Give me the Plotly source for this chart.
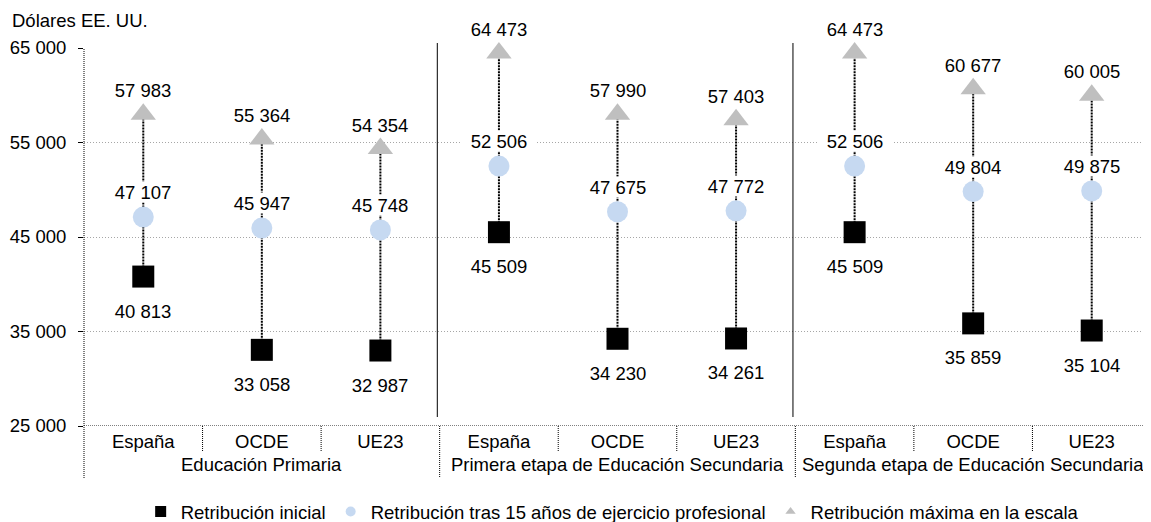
import plotly.graph_objects as go

# data
paises = ["España", "OCDE", "UE23"] * 3
etapas = [
    "Educación Primaria",
    "Primera etapa de Educación Secundaria",
    "Segunda etapa de Educación Secundaria",
]
inicial = [40813, 33058, 32987, 45509, 34230, 34261, 45509, 35859, 35104]
quince = [47107, 45947, 45748, 52506, 47675, 47772, 52506, 49804, 49875]
maxima = [57983, 55364, 54354, 64473, 57990, 57403, 64473, 60677, 60005]
y_ticks = [25000, 35000, 45000, 55000, 65000]

FONT = "Liberation Sans, Arial, sans-serif"
FS = 18.5
SQ_COLOR = "#000000"
CIRC_COLOR = "#c6d9f1"
TRI_COLOR = "#bfbfbf"


def fmt(v):
    return f"{v:,}".replace(",", " ")


xs = list(range(len(paises)))

fig = go.Figure()

# dotted connector from initial to maximum salary
lx, ly = [], []
for i in xs:
    lx += [i, i, None]
    ly += [inicial[i], maxima[i], None]
fig.add_trace(go.Scatter(
    x=lx, y=ly, mode="lines", showlegend=False, hoverinfo="skip",
    line=dict(color="black", width=2, dash="2px,1px"),
))

fig.add_trace(go.Scatter(
    x=xs, y=inicial, mode="markers", showlegend=False, cliponaxis=False,
    marker=dict(symbol="square", size=22, color=SQ_COLOR),
))
fig.add_trace(go.Scatter(
    x=xs, y=quince, mode="markers", showlegend=False, cliponaxis=False,
    marker=dict(symbol="circle", size=21, color=CIRC_COLOR),
))
fig.add_trace(go.Scatter(
    x=xs, y=maxima, mode="markers", showlegend=False, cliponaxis=False,
    marker=dict(symbol="triangle-up", size=22, color=TRI_COLOR),
))

# legend-only entries with small symbols
fig.add_trace(go.Scatter(x=[None], y=[None], mode="markers", name="Retribución inicial",
                         marker=dict(symbol="square", size=11, color=SQ_COLOR)))
fig.add_trace(go.Scatter(x=[None], y=[None], mode="markers",
                         name="Retribución tras 15 años de ejercicio profesional",
                         marker=dict(symbol="circle", size=10, color=CIRC_COLOR)))
fig.add_trace(go.Scatter(x=[None], y=[None], mode="markers",
                         name="Retribución máxima en la escala",
                         marker=dict(symbol="triangle-up", size=9, color=TRI_COLOR)))

annotations = []
lab = dict(showarrow=False, bgcolor="white", width=74, height=20, borderpad=0,
           font=dict(family=FONT, size=FS, color="black"))
for i in xs:
    annotations.append(dict(x=i, y=maxima[i], text=fmt(maxima[i]), yshift=24, **lab))
    annotations.append(dict(x=i, y=quince[i], text=fmt(quince[i]), yshift=25, **lab))
    annotations.append(dict(x=i, y=inicial[i], text=fmt(inicial[i]), yshift=-34, **lab))

# group labels below the axis
for g, name in enumerate(etapas):
    annotations.append(dict(
        x=g * 3 + 1, y=-0.103, xref="x", yref="paper", text=name, showarrow=False,
        yanchor="middle", font=dict(family=FONT, size=FS, color="black"),
    ))

annotations.append(dict(
    x=-0.0694, y=1.074, xref="paper", yref="paper", text="Dólares EE. UU.",
    showarrow=False, xanchor="left", yanchor="middle",
    font=dict(family=FONT, size=FS, color="black"),
))

shapes = []
# bottom axis line and left axis line (black dotted)
shapes.append(dict(type="line", xref="paper", yref="y", x0=0, x1=1, y0=25000, y1=25000,
                   line=dict(color="black", width=1, dash="1px,1px")))
shapes.append(dict(type="line", xref="paper", yref="paper", x0=0, x1=0, y0=-0.1376, y1=1,
                   line=dict(color="black", width=1, dash="1px,1px")))
# category dividers
for k in range(1, 9):
    bottom = -0.1376 if k % 3 == 0 else -0.0688
    shapes.append(dict(type="line", xref="x", yref="paper", x0=k - 0.5, x1=k - 0.5,
                       y0=0, y1=bottom, line=dict(color="black", width=1, dash="1px,1px")))
# solid separators between education stages
for sx in [2.48, 5.48]:
    shapes.append(dict(type="line", xref="x", yref="paper", x0=sx, x1=sx,
                       y0=0.0238, y1=1.0132, line=dict(color="black", width=1)))

# the page body adds an 8px offset, so the figure is 8px smaller on each axis
fig.update_layout(
    width=1143, height=514,
    margin=dict(l=76, r=0, t=40, b=96, autoexpand=False),
    plot_bgcolor="white", paper_bgcolor="white",
    font=dict(family=FONT, size=FS, color="black"),
    showlegend=True,
    legend=dict(orientation="h", x=0.495, xanchor="center", y=-0.2275, yanchor="middle",
                font=dict(family=FONT, size=FS), itemwidth=30, tracegroupgap=0),
    annotations=annotations,
    shapes=shapes,
)
fig.update_xaxes(
    range=[-0.5, 8.5], tickvals=xs, ticktext=paises, showgrid=False, zeroline=False,
    showline=False, ticks="", ticklabelstandoff=2,
    tickfont=dict(family=FONT, size=FS, color="black"),
)
fig.update_yaxes(
    range=[25000, 65000], tickvals=y_ticks, ticktext=[fmt(v) for v in y_ticks],
    showgrid=True, gridcolor="#a6a6a6", gridwidth=1, griddash="1px,2px", zeroline=False,
    showline=False, ticks="outside", ticklen=5, tickcolor="black",
    ticklabelstandoff=8, tickfont=dict(family=FONT, size=FS, color="black"),
)

fig.write_html("out.html")
